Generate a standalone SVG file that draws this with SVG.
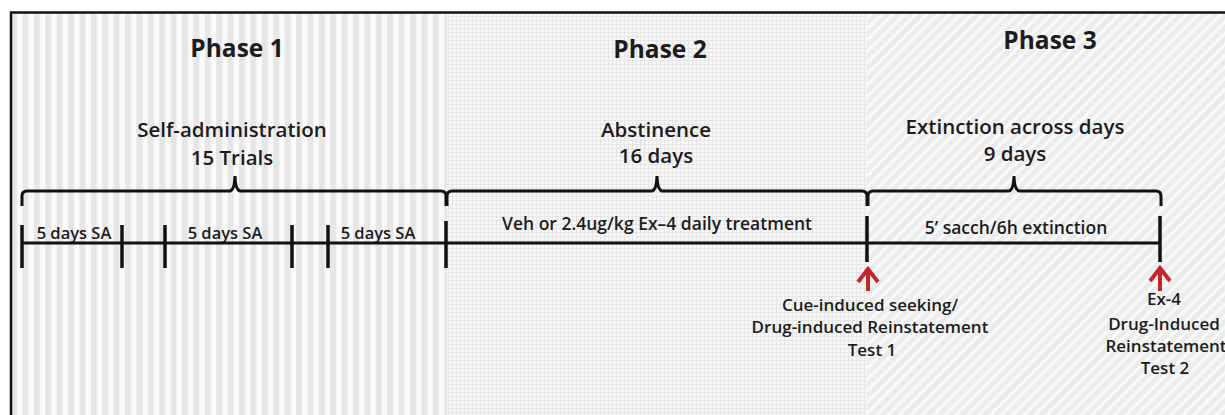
<svg xmlns="http://www.w3.org/2000/svg" width="1225" height="415" viewBox="0 0 1225 415">
<style>
.t{font-family:"Open Sans",Lato,"Liberation Sans",sans-serif;fill:#1c1c1c;text-anchor:middle;font-weight:600}
.ph{font-size:24.5px;font-weight:bold}
.h{font-size:20.5px}
.s{font-size:16.5px}
.m{font-size:17.5px}
.b{font-size:17px}
.ln{stroke:#111;stroke-width:3;fill:none;stroke-linecap:butt}
.tk{stroke:#111;stroke-width:3.5;fill:none}
.ar{stroke:#c0262c;stroke-width:4;fill:none;stroke-linejoin:miter}
</style>
<defs>
<pattern id="p1" width="11.4" height="10" patternUnits="userSpaceOnUse" x="10">
<rect width="11.4" height="10" fill="#fafafa"/>
<rect x="1" width="6" height="10" fill="#e6e6e6"/>
</pattern>
<pattern id="p2" width="4" height="4" patternUnits="userSpaceOnUse">
<rect width="4" height="4" fill="#f7f7f7"/>
<rect width="1" height="4" fill="#e6e6e6"/>
<rect width="4" height="1" fill="#e6e6e6"/>
</pattern>
<pattern id="p3" width="8" height="10" patternUnits="userSpaceOnUse" patternTransform="rotate(45)">
<rect width="8" height="10" fill="#ececec"/>
<rect x="0" width="3" height="10" fill="#fafafa"/>
</pattern>
</defs>
<rect width="1225" height="415" fill="#ffffff"/>
<g id="backgrounds">
<rect x="10" y="12" width="437" height="403" fill="url(#p1)"/>
<rect x="447" y="12" width="420" height="403" fill="url(#p2)"/>
<rect x="867" y="12" width="358" height="403" fill="url(#p3)"/>
<path d="M11,415 L11,12.5 L1225,12.5" fill="none" stroke="#111" stroke-width="2.5"/>
</g>
<g id="phase1">
<text class="t ph" x="237" y="57">Phase 1</text>
<text class="t h" x="232" y="137">Self-administration</text>
<text class="t h" x="232" y="165">15 Trials</text>
<text class="t s" x="74" y="239">5 days SA</text>
<text class="t s" x="225" y="239">5 days SA</text>
<text class="t s" x="378" y="239">5 days SA</text>
</g>
<g id="phase2">
<text class="t ph" x="660" y="58">Phase 2</text>
<text class="t h" x="656" y="137">Abstinence</text>
<text class="t h" x="656" y="163">16 days</text>
<text class="t m" x="657" y="230">Veh or 2.4ug/kg Ex–4 daily treatment</text>
</g>
<g id="phase3">
<text class="t ph" x="1050" y="49">Phase 3</text>
<text class="t h" x="1015" y="134">Extinction across days</text>
<text class="t h" x="1015" y="161">9 days</text>
<text class="t m" x="1016" y="234">5’ sacch/6h extinction</text>
</g>
<g id="test1">
<text class="t b" x="870" y="311">Cue-induced seeking/</text>
<text class="t b" x="870" y="333">Drug-induced Reinstatement</text>
<text class="t b" x="872" y="356">Test 1</text>
</g>
<g id="test2">
<text class="t b" x="1164" y="305">Ex-4</text>
<text class="t b" x="1164" y="330">Drug-Induced</text>
<text class="t b" x="1166" y="352">Reinstatement</text>
<text class="t b" x="1165" y="374">Test 2</text>
</g>
<g id="connectors">
<path class="ln" d="M22,206 L22,196 Q22,191 27,191 L230,191 Q234.5,190 235,176 Q235.5,190 240,191 L441,191 Q446,191 446,196 L446,206"/>
<path class="ln" d="M447,206 L447,196 Q447,191 452,191 L652,191 Q656.5,190 657,176 Q657.5,190 662,191 L862,191 Q867,191 867,196 L867,206"/>
<path class="ln" d="M868,206 L868,196 Q868,191 873,191 L1009,191 Q1013.5,190 1014,176 Q1014.5,190 1019,191 L1156,191 Q1161,191 1161,196 L1161,206"/>
<line class="ln" x1="22" y1="243" x2="1161" y2="243"/>
<path class="tk" d="M22,225 V268 M122,225 V268 M165,225 V268 M292,225 V268 M328,225 V268 M446,221 V268 M867,216 V262 M1160,216 V262"/>
<path class="ar" d="M868,291 V269 M858,282 L868,269 L878,282"/>
<path class="ar" d="M1160,291 V268 M1150,281 L1160,268 L1170,281"/>
</g>
</svg>
